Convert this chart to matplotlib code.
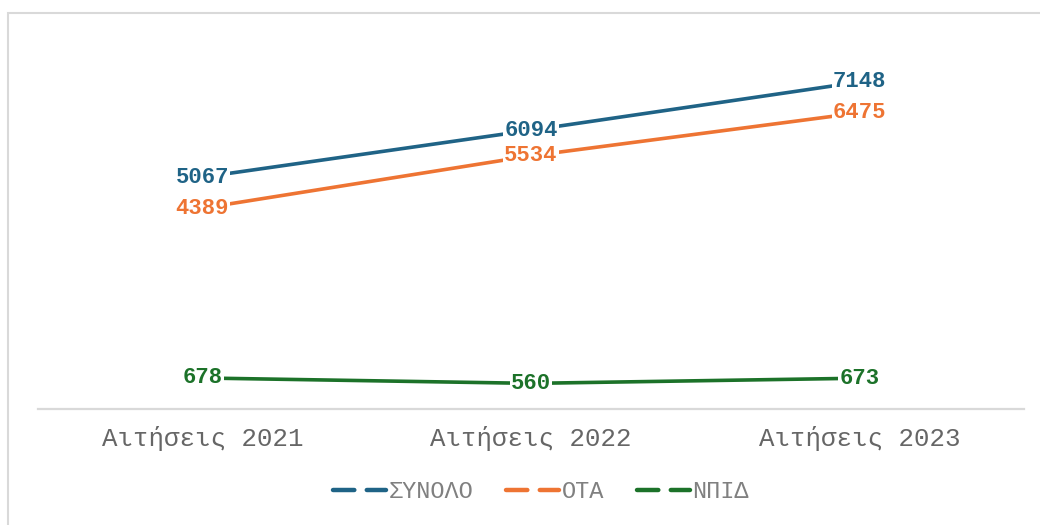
import matplotlib
matplotlib.use("Agg")
import matplotlib.pyplot as plt
from matplotlib.patches import Rectangle

categories = ["Αιτήσεις 2021", "Αιτήσεις 2022", "Αιτήσεις 2023"]
synolo = [5067, 6094, 7148]
ota = [4389, 5534, 6475]
npid = [678, 560, 673]

series = [
    ("ΣΥΝΟΛΟ", synolo, "#1F6386"),
    ("ΟΤΑ", ota, "#EE7433"),
    ("ΝΠΙΔ", npid, "#1C7229"),
]

plt.rcParams['font.family'] = ['Liberation Mono', 'DejaVu Sans Mono', 'DejaVu Sans']

fig = plt.figure(figsize=(10.4, 5.25), dpi=100)
fig.patch.set_facecolor("white")
# outer chart border
fig.add_artist(Rectangle((8 / 1040, -0.05), 1.1, (525 - 13) / 525 + 0.05,
                         transform=fig.transFigure, fill=False,
                         edgecolor="#D9D9D9", lw=1.5))

ax = fig.add_axes([38 / 1040, (525 - 409) / 525, (1024 - 38) / 1040, (409 - 43) / 525])
x = list(range(len(categories)))

handles = []
for name, vals, col in series:
    ax.plot(x, vals, color=col, lw=2.6, solid_capstyle="round", zorder=2)
    h, = ax.plot([], [], color=col, lw=3.2, dashes=(4.8, 2.8),
                 dash_capstyle="round", label=name)
    handles.append(h)
    for xi, v in zip(x, vals):
        ax.text(xi, v, str(v), ha="center", va="center", color=col,
                fontsize=16, fontweight="bold", zorder=4,
                bbox=dict(boxstyle="square,pad=0.05", fc="white", ec="none"))

ax.set_xlim(-0.5, 2.5)
ax.set_ylim(0, 8000)
ax.set_xticks(x)
ax.set_xticklabels(categories, fontsize=18.5, color="#666666")
ax.tick_params(axis="x", length=0, pad=12)
ax.set_yticks([])
for s in ["top", "right", "left"]:
    ax.spines[s].set_visible(False)
ax.spines["bottom"].set_color("#D9D9D9")
ax.spines["bottom"].set_linewidth(1.6)

leg = fig.legend(handles=handles, loc="center", bbox_to_anchor=(541 / 1040, 1 - 492 / 525),
                 ncol=3, frameon=False, fontsize=17, handlelength=2.25,
                 handletextpad=0.1, columnspacing=1.4, labelcolor="#808080")

fig.savefig("out.png", dpi=100, facecolor="white")
